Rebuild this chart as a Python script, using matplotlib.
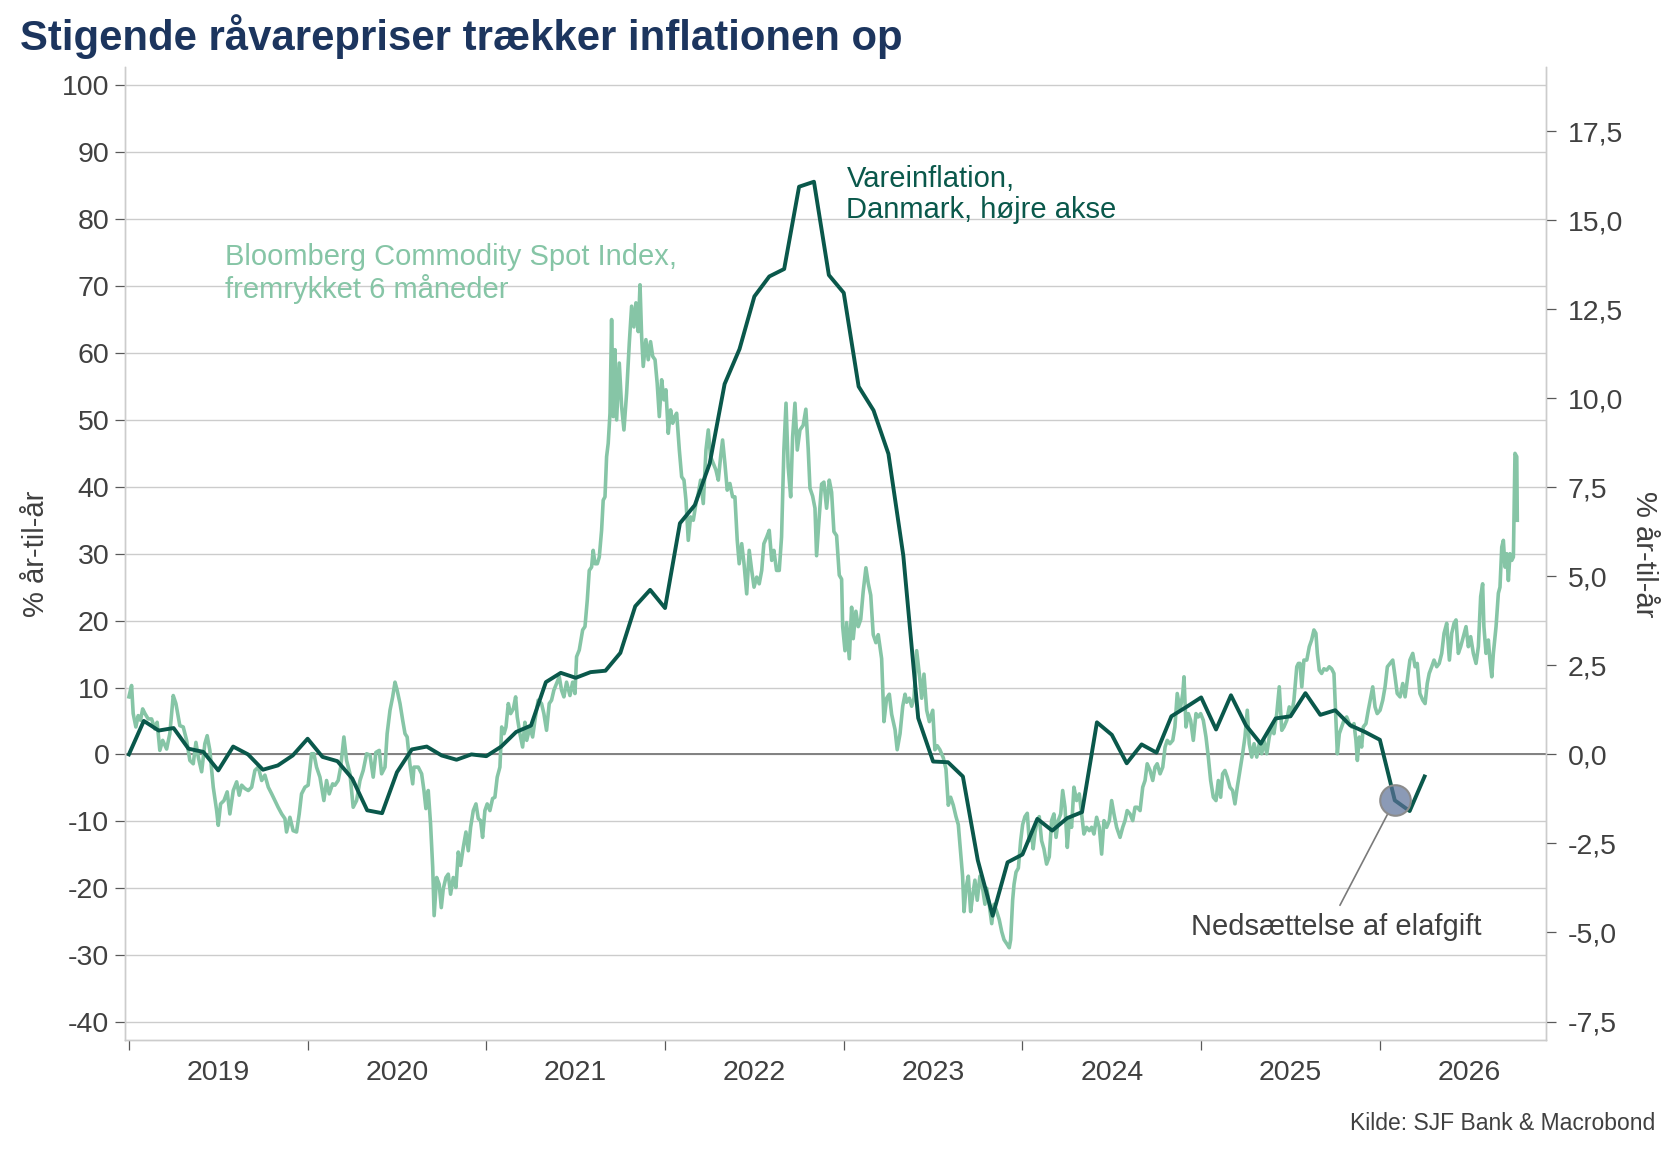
import matplotlib
matplotlib.use('Agg')
import matplotlib.pyplot as plt
import numpy as np

plt.rcParams['font.family'] = ['Liberation Sans', 'DejaVu Sans']

title = 'Stigende råvarepriser trækker inflationen op'
source = 'Kilde: SJF Bank & Macrobond'
ylabel = '% år-til-år'
bcom_label = 'Bloomberg Commodity Spot Index,\nfremrykket 6 måneder'
vare_label = 'Vareinflation,\nDanmark, højre akse'
note_label = 'Nedsættelse af elafgift'

years = [2019, 2020, 2021, 2022, 2023, 2024, 2025, 2026]

# Vareinflation, Danmark, monthly from Jan 2019 (right axis, %)
vare = [0.0, 0.94, 0.67, 0.74, 0.16, 0.07, -0.45, 0.22, 0.0, -0.43, -0.31, -0.03,
        0.44, -0.07, -0.19, -0.68, -1.57, -1.65, -0.5, 0.14, 0.22, -0.03, -0.15, 0.0,
        -0.05, 0.22, 0.63, 0.81, 2.03, 2.29, 2.15, 2.31, 2.35, 2.85, 4.16, 4.62,
        4.11, 6.49, 7.0, 8.17, 10.4, 11.38, 12.86, 13.42, 13.63, 15.94, 16.08, 13.46,
        12.96, 10.33, 9.66, 8.44, 5.58, 1.02, -0.2, -0.22, -0.62, -2.97, -4.53, -3.03,
        -2.81, -1.81, -2.14, -1.79, -1.62, 0.9, 0.55, -0.25, 0.28, 0.05, 1.07, 1.33,
        1.6, 0.7, 1.66, 0.82, 0.3, 1.01, 1.07, 1.72, 1.11, 1.24, 0.82, 0.63,
        0.41, -1.29, -1.59, -0.62]
note_month = 85  # elafgift cut, marked with a circle

# Bloomberg Commodity Spot Index, y/y %, shifted 6 months (left axis)
# time given as years after 1 Jan 2019
bcom_t = [0.000, 0.015, 0.024, 0.039, 0.052, 0.065, 0.077, 0.090, 0.108, 0.127, 0.145, 0.158,
          0.173, 0.189, 0.211, 0.229, 0.248, 0.263, 0.285, 0.304, 0.323, 0.341, 0.360, 0.375,
          0.388, 0.407, 0.425, 0.438, 0.453, 0.472, 0.491, 0.500, 0.513, 0.532, 0.550, 0.565,
          0.584, 0.603, 0.617, 0.631, 0.649, 0.668, 0.687, 0.705, 0.724, 0.743, 0.761, 0.780,
          0.799, 0.817, 0.835, 0.855, 0.873, 0.882, 0.901, 0.919, 0.938, 0.953, 0.966, 0.985,
          1.003, 1.022, 1.035, 1.050, 1.069, 1.091, 1.106, 1.121, 1.140, 1.153, 1.171, 1.185,
          1.203, 1.218, 1.237, 1.255, 1.274, 1.293, 1.311, 1.330, 1.349, 1.367, 1.382, 1.401,
          1.414, 1.433, 1.445, 1.461, 1.476, 1.489, 1.501, 1.517,
          1.532, 1.545, 1.557, 1.572, 1.588, 1.595, 1.619, 1.638, 1.651, 1.662, 1.675, 1.688,
          1.700, 1.708, 1.722, 1.736, 1.748, 1.759, 1.774, 1.787, 1.800, 1.815, 1.830, 1.843,
          1.856, 1.871, 1.886, 1.899, 1.912, 1.927, 1.942, 1.955, 1.968, 1.979, 1.992, 2.005,
          2.020, 2.035, 2.048, 2.061, 2.076, 2.086, 2.099, 2.110, 2.123, 2.136, 2.151, 2.164,
          2.173, 2.188, 2.203, 2.216, 2.226, 2.244, 2.259, 2.272, 2.290, 2.309, 2.322, 2.337,
          2.352, 2.365, 2.378, 2.393, 2.408, 2.421, 2.434, 2.449, 2.468, 2.483, 2.496, 2.505,
          2.520,
          2.539, 2.552, 2.565, 2.576, 2.589, 2.598, 2.608, 2.621, 2.632, 2.645, 2.654, 2.664,
          2.673, 2.682, 2.692, 2.701, 2.710, 2.720, 2.729, 2.744, 2.757, 2.770, 2.785, 2.800,
          2.813, 2.826, 2.837, 2.850, 2.860, 2.869, 2.878, 2.893, 2.906, 2.919, 2.931, 2.944,
          2.956, 2.968, 2.981, 2.994, 3.005, 3.018, 3.031, 3.043, 3.055, 3.065, 3.080, 3.093,
          3.106, 3.117, 3.130, 3.143, 3.158, 3.173, 3.186, 3.199, 3.214, 3.229, 3.242, 3.255,
          3.270, 3.285, 3.298, 3.311, 3.322, 3.335, 3.348, 3.363, 3.378, 3.391, 3.404, 3.415,
          3.429, 3.442, 3.457, 3.471, 3.485, 3.498, 3.513, 3.527, 3.541, 3.553, 3.569, 3.583,
          3.597, 3.609, 3.624, 3.639, 3.652, 3.665, 3.677, 3.689, 3.703, 3.714, 3.727, 3.740,
          3.755,
          3.773, 3.788, 3.801, 3.811, 3.826, 3.839, 3.848, 3.863, 3.876, 3.889, 3.904, 3.919,
          3.932, 3.945, 3.960, 3.975, 3.988, 3.994, 4.007, 4.016, 4.031, 4.044, 4.053, 4.068,
          4.081, 4.095, 4.109, 4.124, 4.137, 4.151, 4.165, 4.180, 4.193, 4.212, 4.225, 4.240,
          4.255, 4.268, 4.287, 4.299, 4.315, 4.330, 4.343, 4.352, 4.367, 4.380, 4.393, 4.408,
          4.423, 4.436, 4.449, 4.464, 4.479, 4.498, 4.510, 4.523, 4.538, 4.557, 4.572, 4.585,
          4.598, 4.613, 4.628, 4.641, 4.654, 4.665, 4.673, 4.684, 4.697, 4.710, 4.721, 4.734,
          4.747, 4.762, 4.777, 4.790, 4.800, 4.814, 4.828, 4.841, 4.856, 4.870, 4.884, 4.897,
          4.912, 4.926, 4.934, 4.945, 4.953, 4.964, 4.977, 4.990, 5.001, 5.014, 5.027, 5.038,
          5.051, 5.060, 5.070, 5.083, 5.094, 5.107, 5.120, 5.135, 5.150,
          5.163, 5.176, 5.188, 5.200, 5.214, 5.225, 5.238, 5.251, 5.262, 5.275, 5.288, 5.303,
          5.318, 5.331, 5.344, 5.359, 5.374, 5.387, 5.400, 5.415, 5.430, 5.443, 5.456, 5.471,
          5.486, 5.499, 5.512, 5.527, 5.546, 5.561, 5.574, 5.586, 5.602, 5.617, 5.630, 5.642,
          5.658, 5.673, 5.686, 5.698, 5.714, 5.729, 5.742, 5.754, 5.770, 5.785, 5.798, 5.810,
          5.825, 5.841, 5.853, 5.866, 5.882, 5.897, 5.904, 5.915, 5.928, 5.941, 5.956, 5.971,
          5.984, 5.997, 6.012, 6.027, 6.040, 6.053, 6.068, 6.083, 6.096, 6.109, 6.120, 6.133,
          6.146, 6.161, 6.176, 6.189, 6.202, 6.217, 6.232, 6.245, 6.258, 6.269, 6.283, 6.296,
          6.311, 6.325, 6.339, 6.351, 6.367, 6.381, 6.395, 6.407, 6.423, 6.437, 6.451, 6.463,
          6.479, 6.493, 6.507, 6.519, 6.535, 6.544,
          6.553, 6.563, 6.575, 6.591, 6.605, 6.618, 6.631, 6.642, 6.650, 6.661, 6.674, 6.687,
          6.702, 6.717, 6.730, 6.743, 6.754, 6.762, 6.773, 6.786, 6.799, 6.814, 6.829, 6.842,
          6.855, 6.866, 6.874, 6.885, 6.898, 6.907, 6.922, 6.935, 6.949, 6.960, 6.973, 6.985,
          7.001, 7.016, 7.029, 7.042, 7.057, 7.072, 7.085, 7.097, 7.113, 7.128, 7.141, 7.153,
          7.168, 7.184, 7.197, 7.209, 7.224, 7.240, 7.253, 7.265, 7.276, 7.290, 7.303, 7.318,
          7.332, 7.346, 7.359, 7.374, 7.389, 7.402, 7.415, 7.426, 7.439, 7.452, 7.467, 7.482,
          7.495, 7.508, 7.523, 7.538, 7.551, 7.564, 7.575, 7.582, 7.594, 7.607, 7.616, 7.626,
          7.635, 7.650, 7.663, 7.672, 7.682, 7.691, 7.700, 7.710, 7.719, 7.728, 7.738, 7.747,
          7.756, 7.766, 7.769]
bcom_v = [8.6, 10.3, 6.1, 4.1, 5.8, 5.1, 6.8, 6.1, 5.3, 5.3, 3.8, 4.8,
          0.6, 2.1, 0.8, 3.1, 8.8, 7.6, 4.3, 4.1, 2.1, -0.9, -1.4, 1.8,
          -0.4, -2.6, 1.6, 2.8, 0.6, -4.9, -8.4, -10.6, -7.4, -6.9, -5.6, -8.9,
          -5.4, -4.1, -6.1, -4.6, -5.1, -5.4, -4.9, -2.4, -1.9, -3.9, -3.1, -4.9,
          -5.9, -6.9, -7.9, -8.9, -9.6, -11.6, -9.4, -11.4, -11.6, -8.9, -5.9, -4.9,
          -4.6, 0.1, 0.1, -1.9, -3.4, -6.9, -3.9, -5.9, -4.4, -4.6, -3.9, -1.9,
          2.6, -0.9, -2.9, -7.9, -6.9, -3.9, -2.4, 0.1, -0.1, -3.4, 0.3, 0.6,
          -2.9, -1.9, 3.1, 6.6, 8.6, 10.8, 9.6, 7.6,
          5.1, 3.1, 2.6, -1.4, -4.4, -1.9, -1.9, -2.9, -5.4, -8.1, -5.4, -10.4,
          -16.9, -24.1, -18.4, -19.4, -22.9, -20.1, -18.4, -17.9, -20.9, -18.4, -19.9, -14.6,
          -16.6, -13.9, -11.6, -14.4, -10.9, -8.4, -7.4, -9.6, -9.9, -12.4, -8.4, -7.4,
          -8.4, -6.6, -6.4, -3.4, -1.9, 4.1, 3.1, 4.1, 7.6, 6.1, 6.8, 8.6,
          5.6, 3.1, 1.1, 4.8, 2.1, 4.1, 2.6, 5.1, 8.1, 7.6, 6.1, 3.6,
          7.6, 8.1, 9.6, 10.6, 11.6, 9.6, 8.6, 10.8, 8.8, 10.8, 9.1, 14.6,
          15.6,
          18.6, 19.1, 23.1, 27.5, 28.0, 30.5, 28.5, 28.5, 29.5, 33.5, 38.0, 38.5,
          44.5, 46.5, 51.0, 65.0, 50.5, 60.5, 50.0, 58.5, 52.0, 48.5, 54.0, 61.5,
          67.0, 63.9, 67.5, 63.2, 70.2, 62.5, 58.0, 62.0, 59.0, 61.7, 59.5, 59.0,
          55.5, 50.5, 56.0, 53.0, 54.5, 48.0, 51.5, 49.5, 50.5, 51.0, 45.5, 41.5,
          41.0, 38.0, 32.0, 35.5, 35.0, 37.5, 39.0, 41.0, 37.5, 45.5, 48.5, 44.5,
          43.5, 42.5, 41.0, 44.5, 47.0, 43.5, 39.5, 40.5, 38.5, 38.5, 32.0, 28.5,
          31.5, 28.5, 24.0, 30.5, 27.5, 25.0, 26.5, 25.5, 27.5, 31.5, 32.5, 33.5,
          29.0, 30.5, 27.5, 27.5, 32.5, 45.5, 52.5, 43.0, 38.5, 47.5, 52.5, 45.5,
          48.5,
          49.2, 51.6, 45.7, 39.8, 38.6, 36.8, 29.7, 35.6, 40.4, 40.7, 36.8, 41.0,
          39.2, 33.3, 32.7, 26.8, 26.2, 19.1, 15.5, 19.7, 14.3, 22.0, 17.3, 21.4,
          19.1, 20.2, 24.4, 27.9, 25.6, 23.8, 17.9, 16.7, 17.9, 14.3, 4.9, 8.4,
          9.0, 6.0, 3.7, 0.7, 3.1, 7.2, 9.0, 7.8, 8.4, 7.2, 8.4, 15.5,
          12.0, 8.4, 12.0, 6.6, 4.9, 6.6, 0.7, 1.3, 0.7, -0.5, -2.2, -7.6,
          -6.4, -7.6, -9.3, -10.5, -14.7, -18.2, -23.5, -20.0, -18.2, -23.5, -21.2, -18.8,
          -21.8, -18.2, -20.0, -22.4, -20.0, -22.4, -25.3, -22.4, -23.5, -24.7, -26.5, -27.7,
          -28.3, -28.9, -27.7, -21.8, -19.4, -17.6, -17.0, -12.9, -10.5, -9.3, -8.8, -12.9,
          -11.7, -14.1, -11.7, -9.9, -9.3, -12.9, -14.1, -16.4, -15.3,
          -9.9, -8.9, -12.4, -9.9, -8.9, -5.4, -7.9, -13.9, -9.9, -10.9, -4.9, -6.9,
          -5.9, -8.9, -11.9, -10.9, -11.4, -10.9, -11.9, -9.4, -10.9, -14.9, -9.9, -10.9,
          -9.9, -6.9, -8.9, -10.9, -12.4, -10.9, -9.9, -8.4, -8.9, -9.9, -7.9, -7.9,
          -8.4, -4.9, -3.9, -1.4, -2.4, -3.9, -1.9, -1.4, -2.9, -1.9, 1.1, 2.1,
          1.6, 2.1, 4.1, 9.1, 6.6, 9.1, 11.6, 4.1, 6.1, 5.1, 2.1, 6.1,
          5.6, 6.1, 5.1, 2.6, -0.4, -3.9, -6.4, -6.9, -3.9, -6.4, -2.9, -2.4,
          -3.4, -4.9, -5.4, -7.4, -4.9, -2.4, 0.1, 2.6, 6.6, 1.6, -0.4, 1.6,
          -0.4, 1.6, 0.1, 2.1, 0.1, 2.6, 4.1, 3.1, 6.1, 10.1, 3.6, 4.1,
          5.1, 7.1, 6.1, 8.1, 13.1, 13.6,
          13.6, 10.1, 14.1, 14.1, 16.1, 17.1, 18.6, 18.1, 15.1, 12.6, 12.1, 12.8,
          12.6, 13.1, 12.8, 12.1, 5.1, 0.1, 3.1, 4.1, 5.1, 5.6, 4.6, 4.1,
          4.6, 2.1, -0.9, 2.6, 1.1, 4.1, 4.6, 6.6, 8.6, 10.1, 7.1, 6.1,
          6.6, 8.1, 10.1, 13.1, 13.6, 14.1, 11.6, 9.1, 8.6, 10.6, 8.6, 11.1,
          14.1, 15.1, 13.1, 13.6, 9.1, 8.1, 7.6, 10.6, 12.1, 13.1, 14.1, 13.1,
          13.6, 15.1, 18.1, 19.6, 14.1, 18.1, 19.6, 20.1, 15.1, 16.1, 17.6, 19.1,
          16.1, 17.6, 15.1, 13.6, 16.1, 23.6, 25.5, 19.1, 15.1, 17.1, 14.1, 11.6,
          15.1, 19.1, 24.1, 25.0, 31.0, 32.0, 28.0, 30.0, 26.0, 30.0, 29.0, 29.5,
          45.0, 44.5, 35.0]

light_green = '#86c5a6'
dark_green = '#0a584b'
text_grey = '#404040'
grid_grey = '#cccccc'
tick_grey = '#595959'

left_lim = (-42.7, 102.8)
right_scale = 0.18784  # right axis units per left axis unit

fig = plt.figure(figsize=(16.8, 11.56), dpi=100)
ax = fig.add_axes([0.0746, 0.1003, 0.8459, 0.842])
ax2 = ax.twinx()

t_bcom = 2019 + np.array(bcom_t)
t_vare = years[0] + np.arange(len(vare)) / 12

ax.plot(t_bcom, bcom_v, color=light_green, lw=2.6, zorder=3)
ax.axhline(0, color='#808080', lw=1.4, zorder=2)
ax2.plot(t_vare, vare, color=dark_green, lw=2.8, zorder=3)

ax.set_xlim(2018.98, 2026.932)
ax.set_ylim(*left_lim)
ax2.set_ylim(left_lim[0] * right_scale, left_lim[1] * right_scale)

# x axis: ticks at year starts, labels in the middle of the year
ax.set_xticks(years)
ax.set_xticklabels([])
ax.set_xticks([y + 0.5 for y in years], minor=True)
ax.set_xticklabels([str(y) for y in years], minor=True)
ax.tick_params(axis='x', which='major', length=7.5, width=0.9, color=tick_grey)
ax.tick_params(axis='x', which='minor', length=0, pad=14.5, labelsize=20.5, labelcolor=text_grey)

left_ticks = list(range(-40, 101, 10))
ax.set_yticks(left_ticks)
ax.set_yticklabels([str(v) for v in left_ticks])
right_ticks = np.arange(-7.5, 17.6, 2.5)
ax2.set_yticks(right_ticks)
ax2.set_yticklabels([f'{v:.1f}'.replace('.', ',') for v in right_ticks])
for a in (ax, ax2):
    a.tick_params(axis='y', length=7.5, width=0.9, color=tick_grey, labelsize=20.5,
                  labelcolor=text_grey, pad=8)
    a.spines['top'].set_visible(False)
    for s in ('left', 'right', 'bottom'):
        a.spines[s].set_color(grid_grey)
        a.spines[s].set_linewidth(1.0)
ax.tick_params(axis='y', pad=4)

ax.grid(axis='y', color=grid_grey, lw=1.0)
ax.set_axisbelow(True)

fig.text(0.0119, 1 - 50 / 1156, title, fontsize=30.2, fontweight='bold', color='#1c355e',
         va='baseline', ha='left')
fig.text(0.0214, 0.5208, ylabel, fontsize=21, color=text_grey, rotation=90,
         ha='center', va='center')
fig.text(0.9786, 0.5208, ylabel, fontsize=21, color=text_grey, rotation=-90,
         ha='center', va='center')
fig.text(0.985, 0.028, source, fontsize=16.5, color=text_grey, ha='right', va='center')

ax.text(2019.537, 71.9, bcom_label, color=light_green, fontsize=21, ha='left', va='center',
        linespacing=1.1)
ax.text(2023.015, 83.7, vare_label, color=dark_green, fontsize=21, ha='left', va='center',
        linespacing=1.1)

pt = (t_vare[note_month], vare[note_month])
ax2.annotate(note_label, xy=pt, xytext=(2025.754, -25.8 * right_scale),
             color=text_grey, fontsize=21, ha='center', va='center',
             arrowprops=dict(arrowstyle='-', color='#7a7a7a', lw=1.2,
                             shrinkA=4, shrinkB=11, relpos=(0.5, 1.0)),
             zorder=4)
ax2.plot(*pt, 'o', ms=22, mfc=(0.353, 0.435, 0.596, 0.7), mec='#8c8c8c', mew=1.5, zorder=5)

fig.savefig('out.png', dpi=100)
